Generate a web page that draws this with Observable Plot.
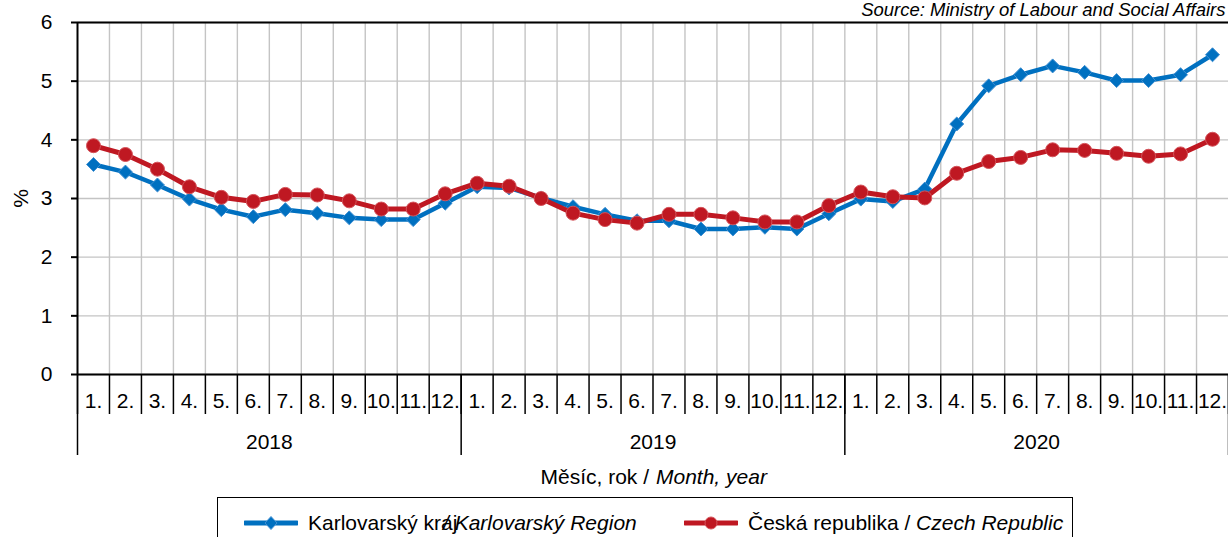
<!DOCTYPE html>
<html><head><meta charset="utf-8">
<script src="https://cdn.jsdelivr.net/npm/d3@7"></script>
<script src="https://cdn.jsdelivr.net/npm/@observablehq/plot@0.6"></script>
<style>
html,body{margin:0;padding:0;background:#fff;}
body{font-family:"Liberation Sans",Arial,sans-serif;overflow:hidden;width:1228px;height:537px;}
#legend{position:relative;width:1228px;height:40px;}
.box{position:absolute;left:217px;top:0;width:856px;height:60px;border:1px solid #000;box-sizing:border-box;}
.item{position:absolute;top:12px;font-size:21px;line-height:26px;white-space:nowrap;color:#000;}
.sw{position:absolute;top:18px;}
</style></head><body>
<div id="chart"></div>
<div id="legend"></div>
<script>
// ---- data ----
const monthLabels = ["1.","2.","3.","4.","5.","6.","7.","8.","9.","10.","11.","12."];
const years = ["2018","2019","2020"];
const karlovarsky = [3.58,3.45,3.23,2.99,2.81,2.69,2.81,2.75,2.67,2.64,2.64,2.92,
                     3.20,3.18,3.01,2.86,2.73,2.62,2.62,2.48,2.48,2.51,2.48,2.74,
                     2.99,2.95,3.16,4.27,4.92,5.11,5.26,5.15,5.01,5.01,5.11,5.45];
const czech = [3.90,3.75,3.50,3.20,3.02,2.95,3.07,3.06,2.96,2.82,2.82,3.08,
               3.26,3.21,3.00,2.75,2.64,2.58,2.73,2.73,2.67,2.60,2.60,2.88,
               3.11,3.03,3.01,3.43,3.63,3.70,3.83,3.82,3.77,3.72,3.76,4.01];
const yTicks = [0,1,2,3,4,5,6];
const seriesNames = ["Karlovarský kraj", "/ Karlovarský Region", "Česká republika / ", "Czech Republic"];
const sourceText = "Source: Ministry of Labour and Social Affairs";
const axisTitle = ["Měsíc, rok /", "Month, year"];

const blue = "#0070C0", blueEdge = "#3f8fd2";
const red = "#BF1822", redEdge = "#d4535a";

// ---- table ----
const rows = [];
years.forEach((yr, yi) => monthLabels.forEach((m, mi) => {
  const i = yi * monthLabels.length + mi;
  rows.push({i, xc: i + 0.5, month: m, year: yr, kv: karlovarsky[i], cz: czech[i]});
}));
const n = rows.length;
const boundaries = d3.range(0, n + 1);
const innerBoundaries = d3.range(1, n);
const yearBounds = d3.range(0, n + 1, monthLabels.length);
const yearCenters = years.map((y, k) => k * monthLabels.length + monthLabels.length / 2);

const chart = Plot.plot({
  width: 1228, height: 497,
  marginLeft: 77, marginRight: 0, marginTop: 22, marginBottom: 123,
  style: {fontFamily: "'Liberation Sans', Arial, sans-serif", fontSize: "21px", color: "#000", background: "#fff", overflow: "visible"},
  x: {type: "linear", domain: [0, n], axis: null},
  y: {domain: [0, 6], axis: null},
  marks: [
    Plot.gridY({ticks: yTicks, stroke: "#c4c4c4", strokeOpacity: 1, strokeWidth: 1.4}),
    Plot.gridX({ticks: innerBoundaries, stroke: "#c4c4c4", strokeOpacity: 1, strokeWidth: 1.4}),
    Plot.ruleY([6], {stroke: "#000", strokeWidth: 2}),
    Plot.ruleY([0], {stroke: "#000", strokeWidth: 2}),
    Plot.ruleX([0], {stroke: "#000", strokeWidth: 2}),
    Plot.axisY({ticks: yTicks, tickSize: 6, tickPadding: 19, fontSize: 21, label: null, stroke: "#000", strokeWidth: 2, fill: "#000", tickFormat: d => String(d)}),
    Plot.text(["%"], {text: d => d, frameAnchor: "left", dx: -56, rotate: -90, textAnchor: "middle", lineAnchor: "middle", fontSize: 21, fill: "#000"}),
    Plot.axisX({ticks: boundaries, tickSize: 40, tickFormat: () => "", label: null, stroke: "#000", strokeWidth: 1.5}),
    Plot.axisX({ticks: yearBounds, tickSize: 81, tickFormat: () => "", label: null, stroke: "#000", strokeWidth: 1.5}),
    Plot.axisX({ticks: rows.map(r => r.xc), tickSize: 0, tickPadding: 19, fontSize: 21, fill: "#000", label: null,
                tickFormat: d => monthLabels[Math.floor(d) % monthLabels.length]}),
    Plot.axisX({ticks: yearCenters, tickSize: 0, tickPadding: 60, fontSize: 21, fill: "#000", label: null,
                tickFormat: d => years[Math.floor(d / monthLabels.length)]}),
    Plot.text([axisTitle[0]], {text: d => d, frameAnchor: "bottom", dy: 103, dx: -4, textAnchor: "end", lineAnchor: "middle", fontSize: 21, fill: "#000"}),
    Plot.text([axisTitle[1]], {text: d => d, frameAnchor: "bottom", dy: 103, dx: 3, textAnchor: "start", lineAnchor: "middle", fontSize: 21, fontStyle: "italic", fill: "#000"}),
    Plot.text([sourceText], {text: d => d, frameAnchor: "top-right", dy: -12, dx: -3, textAnchor: "end", lineAnchor: "middle", fontSize: 18.5, fontStyle: "italic", fill: "#000"}),
    Plot.line(rows, {x: "xc", y: "kv", stroke: blue, strokeWidth: 4.5}),
    Plot.dot(rows, {x: "xc", y: "kv", symbol: "diamond2", r: 6.3, fill: blue, stroke: blueEdge, strokeWidth: 1}),
    Plot.line(rows, {x: "xc", y: "cz", stroke: red, strokeWidth: 5}),
    Plot.dot(rows, {x: "xc", y: "cz", r: 7, fill: red, stroke: redEdge, strokeWidth: 1})
  ]
});
document.getElementById("chart").appendChild(chart);

// ---- legend ----
const legend = document.getElementById("legend");
legend.innerHTML = `
<div class="box">
  <svg class="sw" style="left:26px" width="54" height="14"><line x1="1" x2="53" y1="7" y2="7" stroke="${blue}" stroke-width="5" stroke-linecap="round"/><path d="M27,0.5 L33,7 L27,13.5 L21,7Z" fill="${blue}" stroke="${blueEdge}"/></svg>
  <span class="item" style="left:90px">${seriesNames[0]}</span>
  <span class="item" style="left:225px;font-style:italic">${seriesNames[1]}</span>
  <svg class="sw" style="left:466px" width="54" height="14"><line x1="1" x2="53" y1="7" y2="7" stroke="${red}" stroke-width="5" stroke-linecap="round"/><circle cx="27" cy="7" r="6" fill="${red}" stroke="${redEdge}"/></svg>
  <span class="item" style="left:530px">${seriesNames[2]}<i>${seriesNames[3]}</i></span>
</div>`;
</script>
</body></html>
